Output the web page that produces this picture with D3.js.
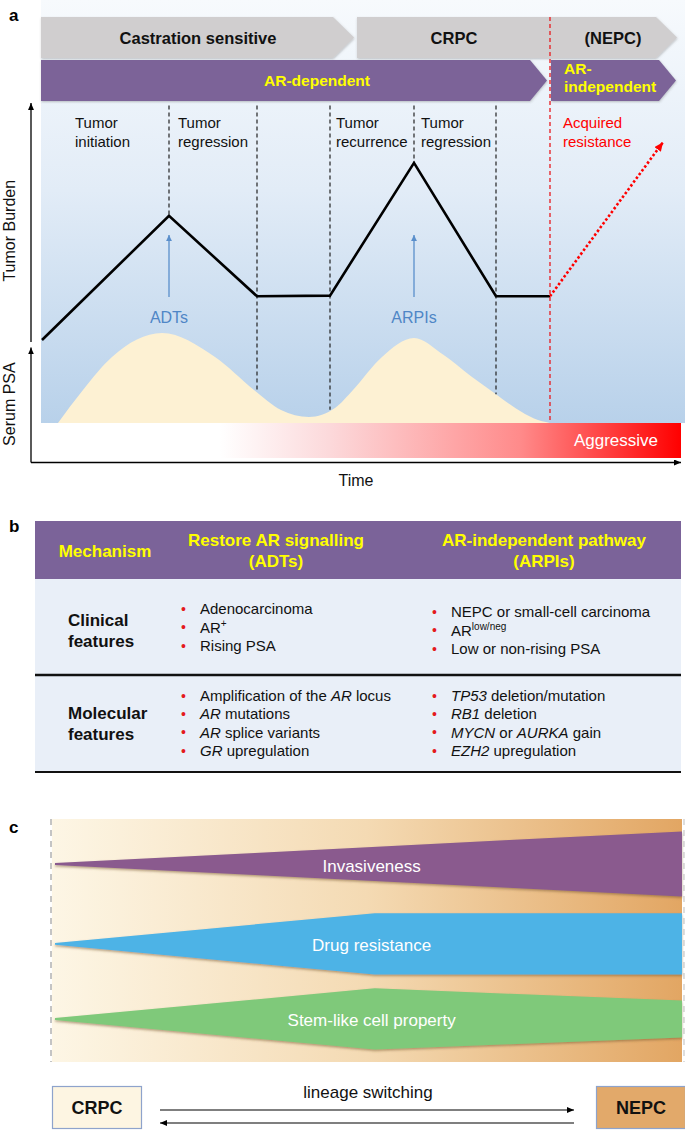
<!DOCTYPE html>
<html><head><meta charset="utf-8">
<script src="https://cdn.jsdelivr.net/npm/d3@7"></script>
<style>
html,body{margin:0;padding:0;background:#fff;}
svg{display:block;font-family:"Liberation Sans",Arial,Helvetica,sans-serif;}
</style></head><body>
<svg id="c" width="685" height="1130"></svg>
<script>
// ================= DATA =================
// Panel a
const phaseLabels = ["Castration sensitive", "CRPC", "(NEPC)"];
const phaseLabelTimes = [15.7, 41.3, 57.2];
const phaseBarStarts = [0, 31.6];
const phaseBarEnds = [31.3, 63.6];

const arLabels = [["AR-dependent"], ["AR-", "independent"]];
const arBarStarts = [0, 51.0];
const arBarEnds = [50.6, 63.5];
const arLabelTimes = [27.6, 52.3];

const burdenTimes = [0.1, 12.8, 21.6, 28.9, 37.3, 45.5, 50.9];
const burdenValues = [0, 54, 19, 19.3, 77, 19, 19];
const resistanceTimes = [50.9, 62.2];
const resistanceValues = [19, 86];

const psaTimes = [1.7, 4.2, 7.1, 12.1, 17.4, 21.3, 24.0, 26.8, 29.4, 31.2, 34.1, 37.3, 40.2, 43.0, 45.5, 47.5, 49.3, 50.9];
const psaValues = [0, 36.7, 73.3, 100, 73.3, 36.7, 14.4, 6.7, 16.7, 36.7, 73.3, 94.4, 76, 52, 32, 16, 5, 0];

const eventLabels = [["Tumor", "initiation"], ["Tumor", "regression"], ["Tumor", "recurrence"], ["Tumor", "regression"], ["Acquired", "resistance"]];
const eventTimes = [3.4, 13.7, 29.5, 38.0, 52.2];
const dividerTimes = [12.8, 21.6, 28.9, 37.3, 45.5];
const transitionTime = 50.9;
const treatments = ["ADTs", "ARPIs"];
const treatmentTimes = [12.8, 37.3];

// Panel b
const tableHeaders = [["Mechanism"], ["Restore AR signalling", "(ADTs)"], ["AR-independent pathway", "(ARPIs)"]];
const rowLabels = [["Clinical", "features"], ["Molecular", "features"]];
const clinicalADT = [[["Adenocarcinoma"]], [["AR"], ["+", "sup"]], [["Rising PSA"]]];
const clinicalARPI = [[["NEPC or small-cell carcinoma"]], [["AR"], ["low/neg", "sup"]], [["Low or non-rising PSA"]]];
const molecularADT = [[["Amplification of the "], ["AR", "i"], [" locus"]], [["AR", "i"], [" mutations"]], [["AR", "i"], [" splice variants"]], [["GR", "i"], [" upregulation"]]];
const molecularARPI = [[["TP53", "i"], [" deletion/mutation"]], [["RB1", "i"], [" deletion"]], [["MYCN", "i"], [" or "], ["AURKA", "i"], [" gain"]], [["EZH2", "i"], [" upregulation"]]];

// Panel c
const properties = ["Invasiveness", "Drug resistance", "Stem-like cell property"];
const propertyCenters = [18.5, 51.4, 82.3];
const propertyProgress = [[0, 100], [0, 51, 100], [0, 51, 100]];
const propertyHalfWidths = [[0.4, 13.4], [0.4, 12.6, 12.6], [0.4, 12.6, 7.6]];
const propertyColors = ["#8a5a8e", "#4db3e6", "#7fc97a"];
const states = ["CRPC", "NEPC"];
const switchLabel = "lineage switching";

// ================= DRAW =================
const svg = d3.select("#c");
const defs = svg.append("defs");

function linGrad(id, x2, y2, stops) {
  const g = defs.append("linearGradient").attr("id", id)
    .attr("x1", 0).attr("y1", 0).attr("x2", x2).attr("y2", y2);
  stops.forEach(s => g.append("stop").attr("offset", s[0]).attr("stop-color", s[1]));
}
linGrad("bgA", 0, 1, [[0, "#f7fafd"], [0.45, "#e2ecf7"], [1, "#b8d1ea"]]);
linGrad("aggr", 1, 0, [[0, "#ffffff"], [0.28, "#ffffff"], [0.45, "#fcd9db"], [0.75, "#ff8a8a"], [1, "#ff0000"]]);
linGrad("bgC", 1, 0, [[0, "#fdf6e5"], [0.5, "#f4dab3"], [1, "#e2a663"]]);

function marker(id, color, w, h) {
  defs.append("marker").attr("id", id)
    .attr("viewBox", `0 0 ${w} ${h}`).attr("refX", w).attr("refY", h / 2)
    .attr("markerWidth", w).attr("markerHeight", h)
    .attr("markerUnits", "userSpaceOnUse").attr("orient", "auto")
    .append("path").attr("d", `M0,0L${w},${h / 2}L0,${h}Z`).attr("fill", color);
}
marker("arrBlack", "#000", 7, 6);
marker("arrBlue", "#5a8fcb", 6, 6);
marker("arrRed", "#ff0000", 9, 8);

const sh = defs.append("filter").attr("id", "shadow").attr("x", "-5%").attr("y", "-20%").attr("width", "110%").attr("height", "150%");
sh.append("feDropShadow").attr("dx", 0).attr("dy", 1.5).attr("stdDeviation", 1)
  .attr("flood-color", "#7a5a30").attr("flood-opacity", 0.55);
const sh2 = defs.append("filter").attr("id", "shadow2").attr("x", "-5%").attr("y", "-20%").attr("width", "110%").attr("height", "150%");
sh2.append("feDropShadow").attr("dx", 0.5).attr("dy", 1).attr("stdDeviation", 0.8)
  .attr("flood-color", "#555").attr("flood-opacity", 0.35);

// ---------- Panel a ----------
const xT = d3.scaleLinear().domain([0, 64]).range([41, 681]);
const yB = d3.scaleLinear().domain([0, 100]).range([340, 110]);
const yP = d3.scaleLinear().domain([0, 100]).range([423, 333]);

const gA = svg.append("g");
gA.append("text").attr("x", 9).attr("y", 21).attr("font-size", 17).attr("font-weight", "bold").text("a");

gA.append("rect").attr("x", xT(0)).attr("y", 0).attr("width", 685 - xT(0)).attr("height", yP(0))
  .attr("fill", "url(#bgA)");

// aggressive bar
gA.append("rect").attr("x", xT(0)).attr("y", yP(0)).attr("width", xT(64) - xT(0)).attr("height", 35)
  .attr("fill", "url(#aggr)");
gA.append("text").attr("x", xT(61.7)).attr("y", yP(0) + 23).attr("text-anchor", "end")
  .attr("font-size", 17).attr("fill", "#fff").text("Aggressive");

// PSA area
const psaData = psaTimes.map((t, i) => [t, psaValues[i]]);
gA.append("path").datum(psaData)
  .attr("d", d3.area().x(d => xT(d[0])).y0(yP(0)).y1(d => yP(d[1])).curve(d3.curveMonotoneX))
  .attr("fill", "#fdf1d3");

const psaAt = d3.scaleLinear().domain(psaTimes).range(psaValues);
const burdenAt = d3.scaleLinear().domain(burdenTimes).range(burdenValues);

// dividers
dividerTimes.forEach(t => {
  const isTreat = treatmentTimes.includes(t);
  const yEnd = isTreat ? yB(burdenAt(t)) : yP(psaAt(t));
  gA.append("line").attr("x1", xT(t)).attr("x2", xT(t)).attr("y1", yB(102)).attr("y2", yEnd)
    .attr("stroke", "#222").attr("stroke-width", 1.2).attr("stroke-dasharray", "4,3");
});

// tumor burden line
const burdenData = burdenTimes.map((t, i) => [t, burdenValues[i]]);
gA.append("path").datum(burdenData)
  .attr("d", d3.line().x(d => xT(d[0])).y(d => yB(d[1])))
  .attr("fill", "none").attr("stroke", "#000").attr("stroke-width", 2.6);

// acquired resistance dotted arrow
const resData = resistanceTimes.map((t, i) => [t, resistanceValues[i]]);
gA.append("path").datum(resData)
  .attr("d", d3.line().x(d => xT(d[0])).y(d => yB(d[1])))
  .attr("fill", "none").attr("stroke", "#ff0000").attr("stroke-width", 2.6)
  .attr("stroke-dasharray", "2.5,2.2").attr("marker-end", "url(#arrRed)");

// treatment arrows
treatments.forEach((name, i) => {
  const t = treatmentTimes[i];
  gA.append("line").attr("x1", xT(t)).attr("x2", xT(t)).attr("y1", yB(18.7)).attr("y2", yB(45.6))
    .attr("stroke", "#5a8fcb").attr("stroke-width", 1.3).attr("marker-end", "url(#arrBlue)");
  gA.append("text").attr("x", xT(t)).attr("y", yB(7.4)).attr("text-anchor", "middle")
    .attr("font-size", 16).attr("fill", "#4f86c6").text(name);
});

// event labels
eventLabels.forEach((lines, i) => {
  const red = i === eventLabels.length - 1;
  lines.forEach((s, j) => {
    gA.append("text").attr("x", xT(eventTimes[i])).attr("y", 128 + j * 19)
      .attr("font-size", 15).attr("fill", red ? "#ff0000" : "#111").text(s);
  });
});

// chevrons
function chevron(x0, x1, y0, y1, d) {
  return d3.line()([[x0, y0], [x1 - d, y0], [x1, (y0 + y1) / 2], [x1 - d, y1], [x0, y1]]) + "Z";
}
phaseBarStarts.forEach((s, i) => {
  gA.append("path").attr("d", chevron(xT(s), xT(phaseBarEnds[i]), 17, 58, 21))
    .attr("fill", "#d0cecf").attr("filter", "url(#shadow2)");
});
phaseLabels.forEach((s, i) => {
  gA.append("text").attr("x", xT(phaseLabelTimes[i])).attr("y", 44).attr("text-anchor", "middle")
    .attr("font-size", 16.5).attr("font-weight", "bold").attr("fill", "#111").text(s);
});
arBarStarts.forEach((s, i) => {
  gA.append("path").attr("d", chevron(xT(s), xT(arBarEnds[i]), 60, 101, 17))
    .attr("fill", "#7b6398").attr("filter", "url(#shadow2)");
});
arLabels.forEach((lines, i) => {
  const single = lines.length === 1;
  lines.forEach((s, j) => {
    gA.append("text").attr("x", xT(arLabelTimes[i]))
      .attr("y", single ? 86 : 74 + j * 18)
      .attr("text-anchor", single ? "middle" : "start")
      .attr("font-size", 15.5).attr("font-weight", "bold").attr("fill", "#ffff00").text(s);
  });
});

// transition red dashed line
gA.append("line").attr("x1", xT(transitionTime)).attr("x2", xT(transitionTime)).attr("y1", 17).attr("y2", yP(0))
  .attr("stroke", "#e8191e").attr("stroke-width", 1.3).attr("stroke-dasharray", "4,3");

// axes
const axX = 31;
gA.append("line").attr("x1", axX).attr("x2", axX).attr("y1", yB(-0.9) ).attr("y2", yB(103))
  .attr("stroke", "#000").attr("stroke-width", 1.3).attr("marker-end", "url(#arrBlack)");
gA.append("line").attr("x1", axX).attr("x2", axX).attr("y1", 462.5).attr("y2", yP(84))
  .attr("stroke", "#000").attr("stroke-width", 1.3).attr("marker-end", "url(#arrBlack)");
gA.append("line").attr("x1", axX).attr("x2", xT(64)).attr("y1", 462.5).attr("y2", 462.5)
  .attr("stroke", "#000").attr("stroke-width", 1.3).attr("marker-end", "url(#arrBlack)");
gA.append("text").attr("transform", `translate(15,${yB(47.5)}) rotate(-90)`).attr("text-anchor", "middle")
  .attr("font-size", 16).attr("fill", "#111").text("Tumor Burden");
gA.append("text").attr("transform", `translate(15,${yP(21)}) rotate(-90)`).attr("text-anchor", "middle")
  .attr("font-size", 16).attr("fill", "#111").text("Serum PSA");
gA.append("text").attr("x", xT(31.5)).attr("y", 486).attr("text-anchor", "middle")
  .attr("font-size", 16).attr("fill", "#111").text("Time");

// ---------- Panel b ----------
const gB = svg.append("g");
gB.append("text").attr("x", 9).attr("y", 532).attr("font-size", 17).attr("font-weight", "bold").text("b");
const tX0 = 35, tX1 = 681;
gB.append("rect").attr("x", tX0).attr("y", 521).attr("width", tX1 - tX0).attr("height", 58).attr("fill", "#7b6399");
gB.append("rect").attr("x", tX0).attr("y", 579).attr("width", tX1 - tX0).attr("height", 193).attr("fill", "#e9eff8");
gB.append("line").attr("x1", tX0).attr("x2", tX1).attr("y1", 675).attr("y2", 675).attr("stroke", "#111").attr("stroke-width", 2.5);
gB.append("line").attr("x1", tX0).attr("x2", tX1).attr("y1", 772).attr("y2", 772).attr("stroke", "#111").attr("stroke-width", 2.2);

const headerCenters = [105, 276, 544];
tableHeaders.forEach((lines, i) => {
  const single = lines.length === 1;
  lines.forEach((s, j) => {
    gB.append("text").attr("x", headerCenters[i]).attr("y", single ? 557 : 546 + j * 21)
      .attr("text-anchor", "middle").attr("font-size", 17).attr("font-weight", "bold")
      .attr("fill", "#ffff00").text(s);
  });
});
const rowLabelY = [626, 719];
rowLabels.forEach((lines, i) => {
  lines.forEach((s, j) => {
    gB.append("text").attr("x", 68).attr("y", rowLabelY[i] + j * 21)
      .attr("font-size", 17).attr("font-weight", "bold").attr("fill", "#111").text(s);
  });
});
function bulletList(items, x, y0, step) {
  items.forEach((segs, k) => {
    const y = y0 + k * step;
    gB.append("text").attr("x", x - 19).attr("y", y - 0.5).attr("font-size", 14)
      .attr("fill", "#e41a1c").text("•");
    const t = gB.append("text").attr("x", x).attr("y", y).attr("font-size", 15).attr("fill", "#111");
    segs.forEach(sg => {
      const ts = t.append("tspan").text(sg[0]);
      if (sg[1] === "i") ts.attr("font-style", "italic");
      if (sg[1] === "sup") ts.attr("font-size", 10).attr("dy", -6);
    });
  });
}
bulletList(clinicalADT, 200, 614, 18.5);
bulletList(clinicalARPI, 451, 617, 18.5);
bulletList(molecularADT, 200, 701, 18.4);
bulletList(molecularARPI, 451, 701, 18.4);

// ---------- Panel c ----------
const gC = svg.append("g");
gC.append("text").attr("x", 9).attr("y", 833).attr("font-size", 17).attr("font-weight", "bold").text("c");
const xc = d3.scaleLinear().domain([0, 100]).range([55, 682]);
const yc = d3.scaleLinear().domain([0, 100]).range([819, 1062]);
gC.append("rect").attr("x", 52).attr("y", yc(0)).attr("width", xc(100) - 52).attr("height", yc(100) - yc(0))
  .attr("fill", "url(#bgC)");
gC.append("line").attr("x1", 51).attr("x2", 51).attr("y1", yc(0)).attr("y2", yc(100))
  .attr("stroke", "#c4c4c4").attr("stroke-width", 2).attr("stroke-dasharray", "6,5");
gC.append("line").attr("x1", 684).attr("x2", 684).attr("y1", yc(0)).attr("y2", yc(100))
  .attr("stroke", "#d4d4d4").attr("stroke-width", 1.5).attr("stroke-dasharray", "6,5");

const labelBaselines = [872, 951, 1026];
properties.forEach((name, i) => {
  const c = propertyCenters[i];
  const pts = propertyProgress[i].map((p, k) => ({ p, w: propertyHalfWidths[i][k] }));
  gC.append("path").datum(pts)
    .attr("d", d3.area().x(d => xc(d.p)).y0(d => yc(c - d.w)).y1(d => yc(c + d.w)))
    .attr("fill", propertyColors[i]).attr("filter", "url(#shadow)");
  gC.append("text").attr("x", xc(50.5)).attr("y", labelBaselines[i]).attr("text-anchor", "middle")
    .attr("font-size", 17).attr("fill", "#fff").text(name);
});

// bottom boxes
const boxX = [52, 596];
const boxFill = ["#fdf5e2", "#e2a96a"];
states.forEach((s, i) => {
  gC.append("rect").attr("x", boxX[i] + 0.5).attr("y", 1086.5).attr("width", 89).attr("height", 42)
    .attr("fill", boxFill[i]).attr("stroke", "#8ea3cc").attr("stroke-width", 1.2);
  gC.append("text").attr("x", boxX[i] + 45).attr("y", 1114).attr("text-anchor", "middle")
    .attr("font-size", 18).attr("font-weight", "bold").attr("fill", "#111").text(s);
});
gC.append("line").attr("x1", 160).attr("x2", 574).attr("y1", 1110).attr("y2", 1110)
  .attr("stroke", "#000").attr("stroke-width", 1.2).attr("marker-end", "url(#arrBlack)");
gC.append("line").attr("x1", 574).attr("x2", 160).attr("y1", 1123).attr("y2", 1123)
  .attr("stroke", "#000").attr("stroke-width", 1.2).attr("marker-end", "url(#arrBlack)");
gC.append("text").attr("x", 368).attr("y", 1098).attr("text-anchor", "middle")
  .attr("font-size", 17).attr("fill", "#111").text(switchLabel);
</script>
</body></html>
